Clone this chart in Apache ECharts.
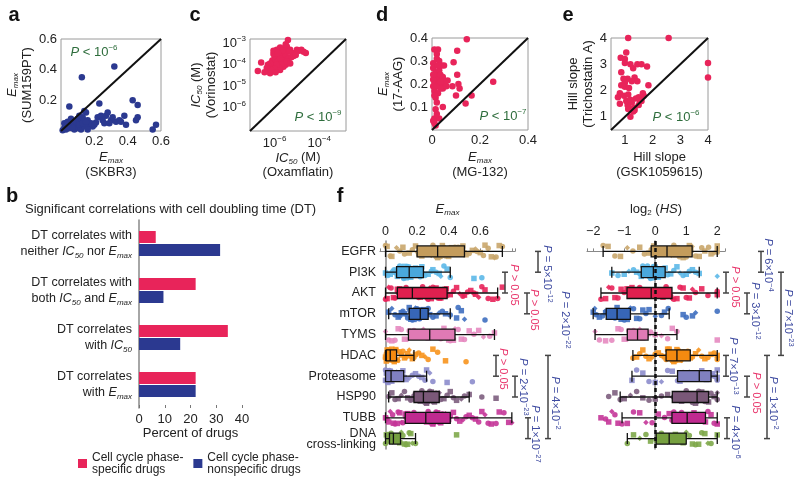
<!DOCTYPE html>
<html><head><meta charset="utf-8">
<script src="https://cdn.jsdelivr.net/npm/echarts@6/dist/echarts.min.js"></script>
<style>html,body{margin:0;padding:0;background:#fff}#c{width:800px;height:478px}</style>
</head><body><div id="c"></div>
<script>
// ---------------- DATA ----------------
// a: Emax SKBR3 (x) vs Emax SUM159PT (y)
const aSKBR3 = [0.32,0.125,0.05,0.23,0.43,0.46,0.14,0.15,0.22,0.24,0.27,0.28,0.30,0.31,0.33,0.35,0.39,0.38,0.45,0.46,0.55,0.57,0.17,0.19,0.21,0.16,0.12,0.10,0.11,0.13,0.09,0.08,0.07,0.06,0.05,0.04,0.03,0.02,0.01,0.02,0.04,0.06,0.08,0.10,0.12,0.14,0.16,0.18,0.25,0.26,0.29,0.36,0.07,0.11,0.03,0.13,0.15,0.20];
const aSUM159PT = [0.42,0.35,0.16,0.18,0.20,0.17,0.13,0.12,0.09,0.10,0.10,0.12,0.07,0.09,0.06,0.07,0.04,0.10,0.07,0.09,0.01,0.04,0.04,0.03,0.055,0.07,0.07,0.08,0.10,0.09,0.05,0.04,0.06,0.03,0.02,0.04,0.01,0.02,0.005,0.05,0.06,0.08,0.01,0.02,0.01,0.03,0.01,0.05,0.07,0.05,0.05,0.06,0.02,0.04,0.03,0.05,0.06,0.04];
// c: log10 IC50 (M) Oxamflatin (x) vs Vorinostat (y)
const cOxamflatinLog = [-5.4,-6.75,-6.6,-6.3,-6.2,-5.75,-6.1,-6.0,-5.9,-5.45,-5.3,-5.0,-4.7,-4.6,-4.9,-5.1,-5.2,-5.4,-5.5,-5.6,-5.7,-5.8,-5.9,-6.0,-6.1,-6.2,-6.05,-5.95,-5.85,-5.75,-5.65,-5.55,-5.5,-5.6,-5.7,-5.8,-5.9,-6.0,-6.15,-6.3,-6.35,-5.35,-5.25,-5.15,-5.05,-5.45,-5.6,-5.75,-5.5,-5.65,-6.05,-5.85,-4.8,-5.3,-6.45,-5.95];
const cVorinostatLog = [-2.85,-4.3,-3.9,-4.3,-4.4,-4.25,-4.1,-3.7,-3.3,-3.15,-3.3,-3.3,-3.4,-3.45,-3.35,-3.45,-3.5,-3.4,-3.6,-3.5,-3.4,-3.55,-3.6,-3.9,-3.8,-3.95,-3.5,-3.75,-3.85,-3.7,-3.8,-3.9,-4.0,-4.1,-4.0,-4.15,-4.0,-4.2,-4.25,-4.0,-4.15,-3.7,-3.65,-3.6,-3.55,-3.85,-3.25,-3.2,-3.05,-3.35,-3.35,-3.45,-3.3,-3.95,-4.35,-4.35];
// d: Emax MG-132 (x) vs 17-AAG (y)
const dMG132 = [0.145,0.255,0.165,0.14,0.105,0.09,0.105,0.11,0.115,0.10,0.085,0.065,0.04,0.045,0.045,0.05,0.025,0.01,0.005,0.005,0.01,0.03,0.01,0.01,0.015,0.015,0.02,0.02,0.015,0.02,0.01,0.025,0.03,0.02,0.005,0.03,0.035,0.04,0.025,0.02,0.005,0.045,0.055,0.035,0.005,0.015,0.01,0.03,0.005,0.025,0.035,0.06,0.02];
const d17AAG = [0.395,0.21,0.15,0.115,0.345,0.295,0.24,0.2,0.18,0.15,0.19,0.215,0.2,0.18,0.1,0.28,0.35,0.35,0.29,0.27,0.05,0.05,0.03,0.17,0.14,0.09,0.33,0.31,0.25,0.23,0.21,0.22,0.2,0.19,0.22,0.26,0.24,0.28,0.16,0.12,0.24,0.23,0.21,0.18,0.04,0.02,0.15,0.3,0.19,0.28,0.21,0.19,0.07];
// e: Hill slope GSK1059615 (x) vs Trichostatin A (y)
const eGSK = [1.12,2.58,4.0,4.0,1.05,0.85,1.0,1.0,1.2,1.3,1.45,1.6,1.8,0.87,1.1,1.35,1.45,1.0,0.87,1.0,1.15,0.75,0.82,0.97,1.12,0.82,1.12,1.35,1.55,1.68,1.85,1.5,1.25,1.2,1.35,1.1,1.65,0.95,1.25,1.4,1.05,1.2,1.3,1.5,1.6,1.15];
const eTSA = [4.0,4.0,3.05,2.5,3.45,3.25,3.2,3.05,3.0,2.85,3.0,3.0,2.92,2.7,2.45,2.5,2.35,2.3,2.2,2.15,2.1,1.75,1.9,1.8,1.85,1.5,1.3,1.35,1.6,1.8,2.2,1.75,1.55,1.0,1.25,1.45,1.9,2.45,2.35,1.7,1.6,1.65,1.2,1.45,1.6,1.35];
// b: percent of drugs
const bCategories = [
  'DT correlates with\nneither {i|IC}{s|50} nor {i|E}{s|max}',
  'DT correlates with\nboth {i|IC}{s|50} and {i|E}{s|max}',
  'DT correlates\nwith {i|IC}{s|50}',
  'DT correlates\nwith {i|E}{s|max}'
];
const bPhaseSpecific = [6.5, 22, 34.5, 22];
const bPhaseNonspecific = [31.5, 9.5, 16, 22];
const bSeriesNames = ['Cell cycle phase-\nspecific drugs', 'Cell cycle phase-\nnonspecific drugs'];
// f: drug classes
const fClasses = ['EGFR','PI3K','AKT','mTOR','TYMS','HDAC','Proteasome','HSP90','TUBB','DNA\ncross-linking'];
// box stats [min, Q1, median, Q3, max]
const emaxBoxes = [
  [0.0,0.2,0.33,0.5,0.74],[0.0,0.07,0.15,0.24,0.41],[0.0,0.075,0.17,0.39,0.71],[0.02,0.15,0.22,0.27,0.41],
  [0.0,0.145,0.28,0.44,0.69],[0.0,0.005,0.03,0.07,0.18],[0.0,0.0,0.035,0.115,0.26],[0.02,0.18,0.24,0.34,0.53],
  [0.0,0.125,0.255,0.41,0.8],[0.0,0.025,0.05,0.095,0.19]
];
const hsBoxes = [
  [-1.68,-0.13,0.38,1.19,2.0],[-1.4,-0.45,-0.06,0.32,1.42],[-1.75,-0.91,-0.13,0.54,2.0],[-2.0,-1.58,-1.23,-0.8,0.45],
  [-1.94,-0.9,-0.57,-0.23,0.7],[-0.72,0.35,0.7,1.13,2.0],[-0.75,0.72,1.42,1.8,2.0],[-1.13,0.55,1.35,1.72,2.0],
  [-1.07,0.54,1.03,1.62,2.0],[-0.9,0.03,0.45,1.0,2.0]
];
const emaxEGFR = [0.00,0.01,0.03,0.04,0.07,0.09,0.11,0.12,0.15,0.17,0.19,0.20,0.21,0.22,0.24,0.25,0.26,0.27,0.29,0.30,0.31,0.32,0.33,0.34,0.36,0.37,0.38,0.40,0.41,0.43,0.44,0.45,0.47,0.48,0.49,0.50,0.51,0.53,0.55,0.57,0.58,0.60,0.62,0.63,0.65,0.67,0.69,0.70,0.72,0.74,0.23,0.35,0.42,0.28,0.46];
const emaxPI3K = [0.00,0.015,0.03,0.04,0.055,0.06,0.07,0.075,0.09,0.10,0.11,0.115,0.13,0.14,0.145,0.15,0.16,0.17,0.18,0.19,0.20,0.21,0.215,0.23,0.24,0.25,0.27,0.29,0.30,0.32,0.34,0.35,0.37,0.39,0.41,0.56,0.61,0.12,0.08,0.22];
const emaxAKT = [0.00,0.01,0.02,0.035,0.05,0.06,0.075,0.08,0.09,0.10,0.11,0.12,0.13,0.145,0.15,0.16,0.17,0.18,0.19,0.20,0.22,0.235,0.25,0.26,0.27,0.29,0.30,0.32,0.33,0.35,0.36,0.37,0.385,0.39,0.41,0.43,0.45,0.47,0.49,0.50,0.52,0.54,0.56,0.57,0.59,0.61,0.63,0.65,0.68,0.71,0.74,0.28,0.21,0.34];
const emaxMTOR = [0.02,0.04,0.06,0.08,0.09,0.10,0.11,0.12,0.13,0.14,0.15,0.155,0.16,0.17,0.18,0.19,0.20,0.21,0.215,0.22,0.23,0.24,0.25,0.255,0.26,0.27,0.28,0.30,0.32,0.34,0.36,0.38,0.41,0.45,0.46,0.48,0.50,0.63];
const emaxTYMS = [0.00,0.02,0.04,0.06,0.08,0.10,0.12,0.14,0.15,0.16,0.18,0.19,0.21,0.22,0.24,0.25,0.27,0.28,0.29,0.31,0.32,0.34,0.35,0.37,0.38,0.40,0.41,0.43,0.44,0.46,0.48,0.50,0.53,0.56,0.59,0.62,0.66,0.69];
const emaxHDAC = [0.00,0.00,0.005,0.01,0.01,0.015,0.02,0.02,0.025,0.03,0.03,0.035,0.04,0.045,0.05,0.055,0.06,0.065,0.07,0.075,0.08,0.09,0.10,0.11,0.12,0.13,0.14,0.15,0.16,0.17,0.18,0.19,0.21,0.23,0.25,0.27,0.30,0.33,0.38,0.51,0.005,0.015,0.025,0.04];
const emaxProteasome = [0.00,0.00,0.005,0.01,0.015,0.02,0.025,0.03,0.035,0.04,0.05,0.06,0.07,0.08,0.09,0.10,0.11,0.12,0.13,0.15,0.17,0.19,0.21,0.23,0.25,0.26,0.28,0.30,0.39,0.55];
const emaxHSP90 = [0.02,0.04,0.06,0.08,0.10,0.12,0.14,0.16,0.17,0.18,0.19,0.20,0.21,0.22,0.23,0.24,0.25,0.26,0.27,0.28,0.29,0.30,0.31,0.32,0.33,0.34,0.35,0.37,0.39,0.41,0.43,0.45,0.48,0.50,0.53,0.61,0.70];
const emaxTUBB = [0.00,0.01,0.02,0.03,0.045,0.05,0.06,0.075,0.08,0.09,0.10,0.11,0.125,0.13,0.14,0.15,0.16,0.17,0.18,0.19,0.20,0.21,0.22,0.23,0.24,0.25,0.26,0.27,0.28,0.29,0.30,0.31,0.32,0.33,0.34,0.35,0.36,0.37,0.38,0.39,0.40,0.41,0.43,0.45,0.47,0.49,0.51,0.53,0.55,0.57,0.59,0.61,0.63,0.65,0.67,0.70,0.72,0.75,0.78,0.80];
const emaxDNA = [0.00,0.005,0.01,0.015,0.02,0.025,0.03,0.035,0.04,0.045,0.05,0.055,0.06,0.07,0.08,0.09,0.10,0.11,0.12,0.13,0.14,0.15,0.16,0.17,0.19,0.45];
const hsEGFR = [-1.68,-1.52,-1.3,-1.12,-0.9,-0.72,-0.5,-0.35,-0.2,-0.13,-0.05,0.0,0.1,0.18,0.25,0.3,0.38,0.45,0.52,0.6,0.7,0.78,0.9,1.0,1.1,1.19,1.3,1.42,1.5,1.6,1.72,1.8,1.9,2.0,2.0,2.0,0.65,0.85,1.15,0.4];
const hsPI3K = [-1.4,-1.2,-1.0,-0.85,-0.7,-0.6,-0.5,-0.45,-0.4,-0.3,-0.2,-0.15,-0.1,-0.06,0.0,0.05,0.1,0.2,0.25,0.32,0.4,0.5,0.6,0.7,0.8,0.9,1.0,1.1,1.2,1.3,1.42,2.0,-0.25,0.15];
const hsAKT = [-1.75,-1.6,-1.5,-1.4,-1.3,-1.2,-1.1,-1.0,-0.91,-0.8,-0.7,-0.6,-0.5,-0.4,-0.3,-0.2,-0.13,-0.05,0.05,0.15,0.25,0.35,0.45,0.54,0.6,0.7,0.8,0.9,1.0,1.1,1.2,1.3,1.5,1.7,2.0,2.0,-0.75,0.3,0.5];
const hsMTOR = [-2.0,-1.95,-1.9,-1.8,-1.7,-1.6,-1.58,-1.5,-1.4,-1.3,-1.23,-1.15,-1.1,-1.0,-0.9,-0.8,-0.7,-0.6,-0.5,-0.4,-0.3,-0.2,0.0,0.2,0.3,0.42,0.9,1.0,1.2,1.3,2.0,-1.35,-1.45];
const hsTYMS = [-1.94,-1.8,-1.6,-1.4,-1.2,-1.1,-1.0,-0.9,-0.85,-0.8,-0.7,-0.65,-0.6,-0.57,-0.5,-0.45,-0.4,-0.3,-0.23,-0.15,0.0,0.2,0.4,0.55,0.7,2.0];
const hsHDAC = [-0.72,-0.6,-0.5,-0.4,-0.3,-0.2,-0.1,0.0,0.1,0.2,0.3,0.35,0.4,0.5,0.55,0.6,0.65,0.7,0.75,0.8,0.85,0.9,1.0,1.05,1.13,1.2,1.3,1.4,1.5,1.6,1.7,1.8,1.9,2.0,2.0,2.0,0.45,0.95];
const hsProteasome = [-0.75,-0.6,-0.4,-0.2,0.0,0.2,0.4,0.55,0.72,0.8,0.9,1.0,1.1,1.2,1.3,1.42,1.5,1.6,1.65,1.7,1.8,1.85,1.9,2.0,2.0,2.0];
const hsHSP90 = [-1.5,-1.3,-1.13,-1.0,-0.8,-0.6,-0.4,-0.2,0.0,0.2,0.4,0.55,0.7,0.85,1.0,1.1,1.2,1.3,1.35,1.4,1.5,1.6,1.72,1.8,1.9,2.0,2.0];
const hsTUBB = [-1.75,-1.6,-1.5,-1.4,-1.3,-1.2,-1.07,-0.9,-0.7,-0.5,-0.3,-0.1,0.1,0.3,0.45,0.54,0.65,0.75,0.85,0.95,1.03,1.1,1.2,1.3,1.4,1.5,1.62,1.7,1.8,1.9,2.0,2.0,0.6,1.25];
const hsDNA = [-0.9,-0.7,-0.5,-0.3,-0.15,0.03,0.1,0.2,0.3,0.4,0.45,0.5,0.6,0.7,0.8,0.9,1.0,1.1,1.2,1.3,1.4,1.5,1.6,1.7,1.8,2.0,0.25,0.65];
const emaxPoints = [emaxEGFR,emaxPI3K,emaxAKT,emaxMTOR,emaxTYMS,emaxHDAC,emaxProteasome,emaxHSP90,emaxTUBB,emaxDNA];
const hsPoints = [hsEGFR,hsPI3K,hsAKT,hsMTOR,hsTYMS,hsHDAC,hsProteasome,hsHSP90,hsTUBB,hsDNA];
// P-value annotations (text, from row, to row)
const emaxPvals = [
  ['{i|P}{n| = 5×10}{p|−12}',0,1,'sig'],['{i|P}{n| > 0.05}',1,2,'ns'],['{i|P}{n| > 0.05}',2,3,'ns'],
  ['{i|P}{n| = 2×10}{p|−22}',null,null,'sig'],['{i|P}{n| > 0.05}',5,6,'ns'],['{i|P}{n| = 2×10}{p|−23}',6,7,'sig'],
  ['{i|P}{n| = 4×10}{p|−2}',5,9,'sig'],['{i|P}{n| = 1×10}{p|−27}',8,9,'sig']
];
const hsPvals = [
  ['{i|P}{n| = 6×10}{p|−4}',0,1,'sig'],['{i|P}{n| > 0.05}',1,2,'ns'],['{i|P}{n| = 3×10}{p|−12}',2,3,'sig'],
  ['{i|P}{n| = 7×10}{p|−23}',1,5,'sig'],['{i|P}{n| = 7×10}{p|−13}',5,6,'sig'],['{i|P}{n| > 0.05}',6,7,'ns'],
  ['{i|P}{n| = 1×10}{p|−2}',5,9,'sig'],['{i|P}{n| = 4×10}{p|−6}',8,9,'sig']
];

// ---------------- STYLE / LAYOUT ----------------
const FONT = "'Liberation Sans', Arial, Helvetica, sans-serif";
const INK = '#222';
const PINK = '#e8245a';
const NAVY = '#2b3990';
const GREEN = '#2e6d3c';
const PBLUE = '#3d4aa0';
const PPINK = '#e8336a';
const FCOL = ['#c9a66c','#5cb8e8','#e8245a','#3f6fc0','#e58ac0','#f7941d','#8c8ccc','#7d5e7e','#c43598','#7ea84a'];
const FBOX = ['#c49c5c','#4aa8dc','#e0204f','#3766b8','#e07ab5','#f58a10','#8080c0','#7a5878','#c02a90','#76a040'];
const SHAPES = ['circle','rect','circle','rect','diamond','circle','rect'];
const JIT = [-0.28,0.12,-0.05,0.26,-0.18,0.04,0.2,-0.24,0.08,-0.12,0.3,-0.02,0.16,-0.3,0.22,-0.08,0.0,0.27,-0.2,0.1,-0.15,0.24,-0.26,0.06];

function rt(size, sub, color, lh) {
  lh = lh || size + 3;
  return {
    i: {fontFamily: FONT, fontSize: size, fontStyle: 'italic', color: color, lineHeight: lh},
    n: {fontFamily: FONT, fontSize: size, color: color, lineHeight: lh},
    s: {fontFamily: FONT, fontSize: sub, fontStyle: 'italic', color: color, lineHeight: sub + 2, verticalAlign: 'bottom'},
    z: {fontFamily: FONT, fontSize: sub, color: color, lineHeight: sub + 2, verticalAlign: 'bottom'},
    p: {fontFamily: FONT, fontSize: sub, color: color, lineHeight: sub + 2, verticalAlign: 'top'}
  };
}
function zr(size, sub, fill) {
  return {
    i: {fontFamily: FONT, fontSize: size, fontStyle: 'italic', fill: fill, lineHeight: size + 3},
    n: {fontFamily: FONT, fontSize: size, fill: fill, lineHeight: size + 3},
    p: {fontFamily: FONT, fontSize: sub, fill: fill, lineHeight: sub + 2, verticalAlign: 'top'}
  };
}
const num = v => String(parseFloat(v.toFixed(2)));
const LBL = {fontFamily: FONT, fontSize: 13, color: INK, margin: 4};
const NAME = {fontFamily: FONT, fontSize: 13, color: INK, lineHeight: 15, rich: rt(13, 8, INK, 15)};

const RA = [0, 0.6], RC = [-7.1, -2.8], RD = [0, 0.4], RE = [0.5, 4];

function sAxis(g, r, extra) {
  return Object.assign({
    gridIndex: g, type: 'value', min: r[0], max: r[1],
    splitLine: {show: false}, axisLine: {show: false}, axisTick: {show: false},
    nameLocation: 'middle', nameTextStyle: NAME
  }, extra);
}
const logLbl = keep => v => {
  const r = Math.round(v);
  if (Math.abs(v - r) > 1e-6 || keep.indexOf(r) < 0) return '';
  return '{n|10}{p|−' + (-r) + '}';
};

const xAxes = [
  sAxis(0, RA, {interval: 0.2, axisLabel: Object.assign({}, LBL, {formatter: v => v === 0 ? '' : num(v)}), name: '{i|E}{s|max}\n{n|(SKBR3)}', nameGap: 19}),
  sAxis(1, RC, {splitNumber: 4, axisLabel: Object.assign({}, LBL, {rich: rt(13, 8, INK), formatter: logLbl([-6, -4])}), name: '{i|IC}{s|50}{n| (M)}\n{n|(Oxamflatin)}', nameGap: 19}),
  sAxis(2, RD, {interval: 0.2, axisLabel: Object.assign({}, LBL, {formatter: v => num(v)}), name: '{i|E}{s|max}\n{n|(MG-132)}', nameGap: 20}),
  sAxis(3, RE, {splitNumber: 3, axisLabel: Object.assign({}, LBL, {formatter: v => Number.isInteger(v) ? String(v) : ''}), name: 'Hill slope\n(GSK1059615)', nameGap: 20}),
  {gridIndex: 4, type: 'value', min: 0, max: 40, interval: 10, splitLine: {show: false},
   axisLine: {show: false}, axisTick: {show: true, inside: true, length: 3, lineStyle: {color: '#777'}},
   axisLabel: Object.assign({}, LBL, {margin: 5}), name: 'Percent of drugs', nameLocation: 'middle', nameGap: 19,
   nameTextStyle: {fontFamily: FONT, fontSize: 13, color: INK}},
  {gridIndex: 5, type: 'value', position: 'top', min: -0.035, max: 0.82, splitNumber: 5, splitLine: {show: false},
   axisLine: {show: true, lineStyle: {color: '#888', width: 1.2}}, axisTick: {show: true, length: 3, lineStyle: {color: '#888'}},
   axisLabel: Object.assign({}, LBL, {fontSize: 12.5, margin: 3, formatter: v => {
     const r = Math.round(v * 10) / 10; if (Math.abs(v - r) > 1e-6 || r > 0.65 || r < 0) return ''; return num(r); }}),
   name: '{i|E}{s|max}', nameLocation: 'middle', nameGap: 24, nameTextStyle: NAME},
  {gridIndex: 6, type: 'value', position: 'top', min: -2.2, max: 2.25, splitNumber: 5, splitLine: {show: false},
   axisLine: {show: true, lineStyle: {color: '#888', width: 1.2}}, axisTick: {show: true, length: 3, lineStyle: {color: '#888'}},
   axisLabel: Object.assign({}, LBL, {fontSize: 12.5, margin: 3, formatter: v => {
     const r = Math.round(v); if (Math.abs(v - r) > 1e-6) return ''; return r < 0 ? '−' + (-r) : String(r); }}),
   name: '{n|log}{z|2}{n| (}{i|HS}{n|)}', nameLocation: 'middle', nameGap: 24, nameTextStyle: NAME}
];
const yAxes = [
  sAxis(0, RA, {interval: 0.2, axisLabel: Object.assign({}, LBL, {formatter: v => v === 0 ? '' : num(v)}), name: '{i|E}{s|max}\n{n|(SUM159PT)}', nameGap: 20}),
  sAxis(1, RC, {splitNumber: 4, axisLabel: Object.assign({}, LBL, {rich: rt(13, 8, INK), formatter: logLbl([-3, -4, -5, -6])}), name: '{i|IC}{s|50}{n| (M)}\n{n|(Vorinostat)}', nameGap: 22}),
  sAxis(2, RD, {interval: 0.1, axisLabel: Object.assign({}, LBL, {formatter: v => v === 0 ? '' : num(v)}), name: '{i|E}{s|max}\n{n|(17-AAG)}', nameGap: 24}),
  sAxis(3, RE, {splitNumber: 3, axisLabel: Object.assign({}, LBL, {formatter: v => Number.isInteger(v) ? String(v) : ''}), name: 'Hill slope\n(Trichostatin A)', nameGap: 15}),
  {gridIndex: 4, type: 'category', inverse: true, data: bCategories,
   axisLine: {show: true, lineStyle: {color: '#888', width: 1.5}}, axisTick: {show: false},
   axisLabel: {fontFamily: FONT, fontSize: 12.5, color: INK, margin: 7, lineHeight: 16, align: 'right', rich: rt(12.5, 8, INK, 16)}},
  {gridIndex: 5, type: 'category', inverse: true, data: fClasses,
   axisLine: {show: true, lineStyle: {color: '#888', width: 1.5}}, axisTick: {show: false},
   axisLabel: {fontFamily: FONT, fontSize: 12.5, color: INK, margin: 4, lineHeight: 11}},
  {gridIndex: 5, type: 'value', show: false, inverse: true, min: -0.5, max: 9.5},
  {gridIndex: 6, type: 'category', inverse: true, data: fClasses,
   axisLine: {show: true, lineStyle: {color: '#888', width: 1.5}}, axisTick: {show: false}, axisLabel: {show: false}},
  {gridIndex: 6, type: 'value', show: false, inverse: true, min: -0.5, max: 9.5}
];

const grids = [
  {left: 61, top: 39, width: 100, height: 92, show: true, borderColor: '#9a9a9a', borderWidth: 1},
  {left: 250, top: 39, width: 96, height: 92, show: true, borderColor: '#9a9a9a', borderWidth: 1},
  {left: 432, top: 38, width: 96, height: 92, show: true, borderColor: '#9a9a9a', borderWidth: 1},
  {left: 611, top: 38, width: 97, height: 92, show: true, borderColor: '#9a9a9a', borderWidth: 1},
  {left: 139, top: 220, width: 103, height: 188},
  {left: 380, top: 241, width: 135, height: 208},
  {left: 587, top: 241, width: 138, height: 208}
];

function pts(xs, ys) { return xs.map((x, i) => [x, ys[i]]); }
function diag(xi, r) {
  return {type: 'line', xAxisIndex: xi, yAxisIndex: xi, data: [[r[0], r[0]], [r[1], r[1]]], symbol: 'none',
          lineStyle: {color: '#111', width: 2}, z: 4, silent: true};
}
function scat(xi, data, color) {
  return {type: 'scatter', xAxisIndex: xi, yAxisIndex: xi, data: data, symbolSize: 6.5,
          itemStyle: {color: color, opacity: 1}, z: 3, silent: true};
}

const series = [
  scat(0, pts(aSKBR3, aSUM159PT), NAVY), diag(0, RA),
  scat(1, pts(cOxamflatinLog, cVorinostatLog), PINK), diag(1, RC),
  scat(2, pts(dMG132, d17AAG), PINK), diag(2, RD),
  scat(3, pts(eGSK, eTSA), PINK), diag(3, RE),
  {type: 'bar', name: bSeriesNames[0], xAxisIndex: 4, yAxisIndex: 4, data: bPhaseSpecific, barWidth: 12, barGap: '8%', itemStyle: {color: PINK}},
  {type: 'bar', name: bSeriesNames[1], xAxisIndex: 4, yAxisIndex: 4, data: bPhaseNonspecific, barWidth: 12, barGap: '8%', itemStyle: {color: NAVY}}
];
function strip(xi, yi, arr, k) {
  return {type: 'scatter', xAxisIndex: xi, yAxisIndex: yi,
    data: arr.map((v, i) => [v, k + JIT[(i * 7 + k * 5) % JIT.length]]),
    symbol: (val, p) => SHAPES[(p.dataIndex + k) % SHAPES.length],
    symbolSize: 5.5, itemStyle: {color: FCOL[k], opacity: 0.9}, z: 2, silent: true};
}
emaxPoints.forEach((arr, k) => series.push(strip(5, 6, arr, k)));
hsPoints.forEach((arr, k) => series.push(strip(6, 8, arr, k)));
function boxes(xi, yi, stats) {
  return {type: 'boxplot', xAxisIndex: xi, yAxisIndex: yi, boxWidth: [11, 11], silent: true, z: 3,
    data: stats.map((b, k) => ({value: b, itemStyle: {color: FBOX[k], borderColor: '#111', borderWidth: 1.3}}))};
}
series.push(boxes(5, 5, emaxBoxes));
const hsBox = boxes(6, 7, hsBoxes);
hsBox.markLine = {silent: true, symbol: ['none', 'none'], label: {show: false}, animation: false,
  lineStyle: {type: [4, 3], color: '#111', width: 2.5}, data: [{xAxis: 0}]};
series.push(hsBox);

const option = {
  animation: false,
  backgroundColor: '#fff',
  textStyle: {fontFamily: FONT},
  grid: grids, xAxis: xAxes, yAxis: yAxes, series: series,
  legend: {data: bSeriesNames, left: 73, top: 446, itemWidth: 9, itemHeight: 9, itemGap: 10, icon: 'rect',
    textStyle: {fontFamily: FONT, fontSize: 12, color: INK, lineHeight: 12.5}, selectedMode: false}
};

const chart = echarts.init(document.getElementById('c'));
chart.setOption(option);

// ---------------- ANNOTATIONS ----------------
const G = [];
function txt(x, y, text, size, fill, opts) {
  const st = Object.assign({text: text, x: 0, y: 0, fill: fill, fontSize: size, fontFamily: FONT,
    align: 'center', verticalAlign: 'middle', textAlign: 'center', textVerticalAlign: 'middle'}, opts || {});
  G.push({type: 'text', x: x, y: y, rotation: st.rot || 0, silent: true, style: st, z: 100});
}
[['a', 14, 15], ['b', 12, 196], ['c', 195, 15], ['d', 382, 15], ['e', 568, 15], ['f', 340, 196]]
  .forEach(l => txt(l[1], l[2], l[0], 20, '#111', {fontWeight: 'bold'}));
txt(25, 209, 'Significant correlations with cell doubling time (DT)', 13, INK,
  {align: 'left', textAlign: 'left'});
const pRich = zr(13, 8, GREEN);
txt(94, 52, '{i|P}{n| < 10}{p|−6}', 13, GREEN, {rich: pRich});
txt(318, 117, '{i|P}{n| < 10}{p|−9}', 13, GREEN, {rich: pRich});
txt(503, 116, '{i|P}{n| < 10}{p|−7}', 13, GREEN, {rich: pRich});
txt(676, 117, '{i|P}{n| < 10}{p|−6}', 13, GREEN, {rich: pRich});

// bracket x and text centre positions (layout)
const emaxLayout = [[538, 547, 274], [505, 514, 285], [527, 534, 310], [null, 565, 320], [496, 503, 369], [515, 523, 387], [548, 555, 403], [528, 535, 434]];
const hsLayout = [[761, 768, 265], [726, 735, 287], [747, 755, 311], [781, 788, 318], [726, 733, 366], [747, 756, 393], [767, 773, 403], [727, 735, 432]];
function annotate(pvals, layout, yAxisIndex) {
  pvals.forEach((p, j) => {
    const L = layout[j];
    const col = p[3] === 'ns' ? PPINK : PBLUE;
    if (L[0] !== null && p[1] !== null) {
      const y0 = chart.convertToPixel({yAxisIndex: yAxisIndex}, p[1]);
      const y1 = chart.convertToPixel({yAxisIndex: yAxisIndex}, p[2]);
      const ls = {stroke: '#444', lineWidth: 1.5};
      G.push({type: 'line', silent: true, shape: {x1: L[0], y1: y0, x2: L[0], y2: y1}, style: ls, z: 100});
      G.push({type: 'line', silent: true, shape: {x1: L[0] - 3, y1: y0, x2: L[0] + 3, y2: y0}, style: ls, z: 100});
      G.push({type: 'line', silent: true, shape: {x1: L[0] - 3, y1: y1, x2: L[0] + 3, y2: y1}, style: ls, z: 100});
    }
    txt(L[1], L[2], p[0], 11, col, {rich: zr(11, 7.5, col), rot: -Math.PI / 2});
  });
}
annotate(emaxPvals, emaxLayout, 6);
annotate(hsPvals, hsLayout, 8);
chart.setOption({graphic: {elements: G}});
</script>
</body></html>
